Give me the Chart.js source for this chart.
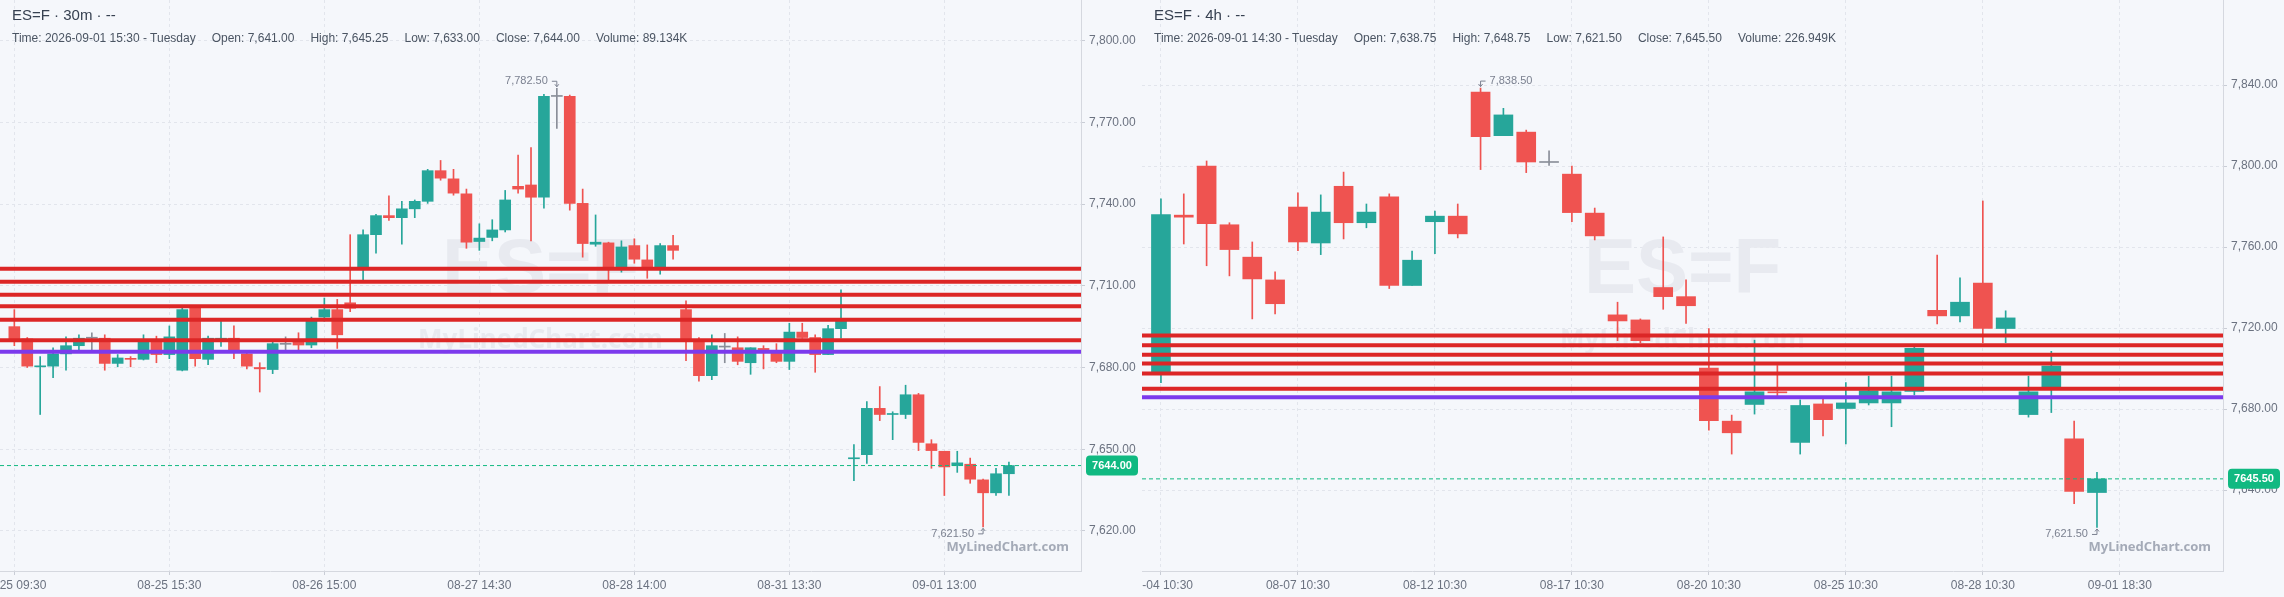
<!DOCTYPE html>
<html lang="en">
<head>
<meta charset="utf-8">
<title>ES=F</title>
<script src="https://cdn.jsdelivr.net/npm/chart.js@4.4.1/dist/chart.umd.min.js"></script>
<style>
  html, body { margin: 0; padding: 0; background: #f5f7fb; }
  #wrap { position: relative; width: 2284px; height: 597px; overflow: hidden; }
  .panel { position: absolute; top: 0; width: 1142px; height: 597px; }
  .panel canvas { position: absolute; left: 0; top: 0; }
  .title { position: absolute; left: 12px; top: 6px; font: 15px "Liberation Sans", Arial, sans-serif; color: #374151; white-space: nowrap; }
  .info { position: absolute; left: 12px; top: 31px; font: 12px "Liberation Sans", Arial, sans-serif; color: #4b5563; white-space: nowrap; }
  .info span { margin-right: 16px; }
</style>
</head>
<body>
<div id="wrap">
  <div class="panel" style="left:0">
    <canvas id="chart30m" width="1142" height="597"></canvas>
    <div class="title" id="title30m"></div>
    <div class="info" id="info30m"></div>
  </div>
  <div class="panel" style="left:1142px">
    <canvas id="chart4h" width="1142" height="597"></canvas>
    <div class="title" id="title4h"></div>
    <div class="info" id="info4h"></div>
  </div>
</div>
<script>
// ES=F 双周期 K线图 (30m / 4h)

// ---- 30m 数据 ----
const open30m = [7695.0, 7690.5, 7680.25, 7680.5, 7685.0, 7688.0, 7690.75, 7690.75, 7681.5, 7683.25,
  7683.0, 7689.25, 7684.75, 7679.0, 7701.75, 7683.0, 7690.25, 7690.75, 7685.0, 7680.0,
  7679.25, 7688.5, 7689.5, 7688.25, 7698.5, 7701.25, 7703.75, 7717.0, 7728.75, 7735.75,
  7735.0, 7738.25, 7741.0, 7752.25, 7749.25, 7743.75, 7726.25, 7727.75, 7730.5, 7746.5,
  7747.0, 7742.5, 7779.5, 7779.5, 7740.25, 7725.25, 7725.75, 7717.0, 7724.75, 7719.5,
  7717.0, 7724.75, 7701.25, 7689.5, 7677.0, 7687.5, 7687.25, 7681.75, 7687.0, 7686.25,
  7682.25, 7693.0, 7691.0, 7684.75, 7694.25, 7646.5, 7648.0, 7665.0, 7662.75, 7662.75,
  7670.0, 7652.0, 7649.25, 7644.0, 7644.5, 7638.75, 7634.0, 7641.0];
const high30m = [7701.25, 7691.0, 7684.0, 7687.25, 7691.25, 7692.0, 7692.75, 7692.0, 7684.75, 7684.0,
  7692.0, 7691.5, 7695.25, 7701.75, 7702.5, 7691.5, 7697.0, 7695.25, 7685.25, 7681.75,
  7689.25, 7691.25, 7692.75, 7698.5, 7705.5, 7705.0, 7728.75, 7730.5, 7736.25, 7743.0,
  7741.0, 7741.5, 7752.75, 7756.0, 7752.75, 7745.5, 7732.75, 7734.25, 7745.0, 7758.0,
  7760.75, 7780.25, 7782.5, 7780.0, 7745.5, 7736.0, 7726.0, 7726.5, 7727.25, 7725.0,
  7725.5, 7728.5, 7704.5, 7691.0, 7692.0, 7692.5, 7691.25, 7687.25, 7688.0, 7688.75,
  7696.25, 7696.25, 7692.0, 7695.5, 7708.5, 7651.75, 7667.5, 7673.0, 7663.75, 7673.5,
  7670.5, 7653.5, 7649.25, 7649.25, 7646.75, 7639.0, 7643.0, 7645.25];
const low30m = [7688.0, 7680.0, 7662.75, 7676.25, 7679.0, 7686.5, 7686.5, 7679.0, 7680.25, 7680.25,
  7682.75, 7681.75, 7683.25, 7678.75, 7680.5, 7681.0, 7687.75, 7683.25, 7679.5, 7671.0,
  7677.75, 7686.5, 7686.5, 7687.25, 7697.0, 7687.0, 7700.5, 7712.25, 7722.0, 7734.0,
  7725.25, 7735.0, 7740.25, 7748.75, 7743.25, 7723.75, 7723.0, 7726.5, 7729.75, 7744.0,
  7726.5, 7738.5, 7767.75, 7737.75, 7720.5, 7724.5, 7712.25, 7715.0, 7718.25, 7712.75,
  7714.25, 7719.75, 7682.5, 7675.0, 7675.5, 7681.75, 7681.0, 7677.5, 7679.5, 7681.75,
  7679.25, 7690.75, 7678.25, 7684.75, 7690.75, 7638.5, 7644.75, 7660.5, 7653.5, 7661.25,
  7649.5, 7643.0, 7633.0, 7641.5, 7637.5, 7621.5, 7633.0, 7633.0];
const close30m = [7689.5, 7680.5, 7680.5, 7685.0, 7688.0, 7690.75, 7690.75, 7681.5, 7683.5, 7683.0,
  7689.25, 7684.75, 7691.25, 7701.25, 7683.25, 7690.75, 7690.75, 7686.5, 7680.5, 7679.5,
  7688.75, 7688.5, 7688.25, 7697.0, 7701.25, 7692.0, 7701.75, 7728.75, 7735.75, 7735.0,
  7738.25, 7741.0, 7752.25, 7749.5, 7744.0, 7726.0, 7727.5, 7730.5, 7741.5, 7745.5,
  7742.5, 7779.5, 7779.5, 7740.25, 7725.5, 7726.0, 7717.0, 7724.25, 7719.75, 7717.0,
  7724.75, 7723.0, 7690.25, 7677.0, 7688.0, 7687.5, 7682.25, 7687.25, 7686.5, 7682.25,
  7693.0, 7691.0, 7684.75, 7694.25, 7697.0, 7646.75, 7665.0, 7662.75, 7663.0, 7670.0,
  7652.5, 7649.5, 7643.5, 7645.0, 7639.0, 7634.0, 7641.0, 7644.0];
const tickIdx30m = [0, 12, 24, 36, 48, 60, 72];
const tickLabels30m = ['08-25 09:30', '08-25 15:30', '08-26 15:00', '08-27 14:30', '08-28 14:00', '08-31 13:30', '09-01 13:00'];
const yTicks30m = [7620, 7650, 7680, 7710, 7740, 7770, 7800];

// ---- 4h 数据 ----
const open4h = [7698.5, 7775.75, 7800.0, 7771.0, 7755.0, 7743.75, 7779.75, 7762.0, 7790.0, 7772.0,
  7784.75, 7741.0, 7772.5, 7775.25, 7836.5, 7815.0, 7816.75, 7801.75, 7796.0, 7776.75,
  7726.5, 7724.0, 7740.0, 7735.5, 7700.25, 7674.0, 7682.25, 7688.5, 7663.5, 7682.5,
  7680.25, 7683.0, 7683.0, 7688.75, 7728.75, 7726.0, 7742.25, 7719.75, 7677.25, 7690.75,
  7665.25, 7638.75];
const high4h = [7783.75, 7786.25, 7802.5, 7772.0, 7762.5, 7747.75, 7786.75, 7785.75, 7797.0, 7781.25,
  7786.25, 7758.0, 7777.75, 7781.25, 7838.5, 7828.5, 7817.75, 7807.5, 7800.0, 7779.25,
  7732.75, 7724.5, 7765.0, 7743.75, 7719.75, 7677.0, 7714.0, 7701.5, 7684.5, 7685.25,
  7693.0, 7696.25, 7696.25, 7711.0, 7756.0, 7744.75, 7782.75, 7728.5, 7696.25, 7708.5,
  7674.0, 7648.75];
const low4h = [7693.0, 7761.5, 7750.75, 7745.75, 7724.5, 7727.0, 7758.25, 7756.25, 7764.0, 7769.5,
  7739.5, 7741.0, 7756.75, 7764.5, 7798.25, 7815.0, 7796.75, 7800.25, 7772.5, 7763.5,
  7713.75, 7712.75, 7729.25, 7722.25, 7669.5, 7657.75, 7677.5, 7686.0, 7657.75, 7666.75,
  7662.75, 7682.0, 7671.25, 7687.0, 7722.0, 7723.0, 7712.75, 7712.75, 7676.0, 7678.25,
  7633.25, 7621.5];
const close4h = [7776.0, 7774.75, 7771.5, 7758.75, 7744.25, 7732.0, 7762.5, 7777.25, 7772.0, 7777.25,
  7741.0, 7753.5, 7775.25, 7766.5, 7814.5, 7825.25, 7802.0, 7801.75, 7777.0, 7765.5,
  7723.5, 7713.75, 7735.5, 7731.0, 7674.25, 7668.25, 7688.5, 7688.0, 7681.75, 7674.75,
  7683.0, 7689.0, 7688.5, 7710.0, 7726.0, 7732.75, 7719.75, 7725.0, 7688.5, 7701.25,
  7639.25, 7645.5];
const tickIdx4h = [0, 6, 12, 18, 24, 30, 36, 42];
const tickLabels4h = ['08-04 10:30', '08-07 10:30', '08-12 10:30', '08-17 10:30', '08-20 10:30', '08-25 10:30', '08-28 10:30', '09-01 18:30'];
const yTicks4h = [7640, 7680, 7720, 7760, 7800, 7840];

// ---- 水平线 (阻力/支撑) ----
const levels = [7716.25, 7711.5, 7706.75, 7702.5, 7697.5, 7690.0];
const pivotLevel = 7685.75;

// ---- 表头 ----
const title30m = 'ES=F · 30m · --';
const info30m = ['Time: 2026-09-01 15:30 - Tuesday', 'Open: 7,641.00', 'High: 7,645.25', 'Low: 7,633.00', 'Close: 7,644.00', 'Volume: 89.134K'];
const title4h = 'ES=F · 4h · --';
const info4h = ['Time: 2026-09-01 14:30 - Tuesday', 'Open: 7,638.75', 'High: 7,648.75', 'Low: 7,621.50', 'Close: 7,645.50', 'Volume: 226.949K'];

const FONT = '"Liberation Sans", Arial, Helvetica, sans-serif';
const UP = '#26a69a';
const DOWN = '#ef5350';
const FLAT = '#8a8f99';
const LEVEL_RED = '#dc2626';
const PIVOT = '#7c3aed';
const PRICE = '#10b981';
const GRID = '#e2e5ec';
const AXIS_TEXT = '#6b7280';

const fmt = v => v.toLocaleString('en-US', { minimumFractionDigits: 2, maximumFractionDigits: 2 });

// 最高/最低价标注
function extremeLabel(ctx, area, x, y, text, isHigh) {
    const onLeft = x > (area.left + area.right) / 2;
    const ly = isHigh ? y - 7 : y + 7;
    const tip = isHigh ? y - 1.5 : y + 1.5;
    ctx.strokeStyle = '#7b8190';
    ctx.fillStyle = '#7b8190';
    ctx.lineWidth = 1;
    ctx.beginPath();
    ctx.moveTo(onLeft ? x - 5 : x + 5, ly);
    ctx.lineTo(x, ly);
    ctx.lineTo(x, tip);
    ctx.stroke();
    const d = isHigh ? -2.5 : 2.5;
    ctx.beginPath();
    ctx.moveTo(x - 2, tip + d);
    ctx.lineTo(x, tip);
    ctx.lineTo(x + 2, tip + d);
    ctx.stroke();
    ctx.font = '11px ' + FONT;
    ctx.textBaseline = 'middle';
    ctx.textAlign = onLeft ? 'right' : 'left';
    ctx.fillText(text, onLeft ? x - 9 : x + 9, ly);
}

const overlayPlugin = {
    id: 'overlay',
    beforeDatasetsDraw(chart, args, opts) {
        const { ctx, chartArea: a } = chart;
        const cx = (a.left + a.right) / 2;
        ctx.save();
        ctx.fillStyle = '#e8eaf0';
        ctx.textAlign = 'center';
        ctx.textBaseline = 'middle';
        ctx.font = 'bold 78px ' + FONT;
        ctx.fillText(opts.symbol, cx, a.top + 271);
        ctx.font = 'bold 26px "Noto Sans", sans-serif';
        ctx.fillText('MyLinedChart.com', cx, a.top + 341);
        ctx.restore();
    },
    afterDraw(chart, args, opts) {
        const { ctx, chartArea: a, scales } = chart;
        ctx.save();

        // 最高 / 最低
        let hi = 0, lo = 0;
        opts.high.forEach((v, i) => { if (v > opts.high[hi]) hi = i; });
        opts.low.forEach((v, i) => { if (v < opts.low[lo]) lo = i; });
        extremeLabel(ctx, a, scales.x.getPixelForValue(hi), scales.y.getPixelForValue(opts.high[hi]), fmt(opts.high[hi]), true);
        extremeLabel(ctx, a, scales.x.getPixelForValue(lo), scales.y.getPixelForValue(opts.low[lo]), fmt(opts.low[lo]), false);

        // 右下角水印
        ctx.font = 'bold 13px "Noto Sans", sans-serif';
        ctx.fillStyle = '#a4aab7';
        ctx.textAlign = 'right';
        ctx.textBaseline = 'middle';
        ctx.fillText('MyLinedChart.com', a.right - 12, a.bottom - 24);

        // 最新价标签
        const y = scales.y.getPixelForValue(opts.last);
        const x0 = a.right + 5;
        ctx.fillStyle = PRICE;
        ctx.beginPath();
        ctx.roundRect(x0, y - 10, 52, 20, 4);
        ctx.fill();
        ctx.fillStyle = '#ffffff';
        ctx.font = 'bold 11px ' + FONT;
        ctx.textAlign = 'center';
        ctx.fillText(opts.last.toFixed(2), x0 + 26, y + 0.5);
        ctx.restore();
    }
};

function hLine(v, xMin, xMax, color, width, dash) {
    return {
        type: 'line',
        data: [{ x: xMin, y: v }, { x: xMax, y: v }],
        borderColor: color,
        borderWidth: width,
        borderDash: dash || [],
        pointRadius: 0,
        order: 0
    };
}

function buildChart(id, d) {
    const colors = d.open.map((o, i) => d.close[i] > o ? UP : (d.close[i] < o ? DOWN : FLAT));
    const bodies = d.open.map((o, i) => ({ x: i, y: [o, d.close[i]] }));
    const wicks = d.open.map((o, i) => ({ x: i, y: [d.low[i], d.high[i]] }));
    const last = d.close[d.close.length - 1];

    const datasets = [
        ...levels.map(v => hLine(v, d.xMin, d.xMax, LEVEL_RED, 4)),
        hLine(pivotLevel, d.xMin, d.xMax, PIVOT, 4),
        hLine(last, d.xMin, d.xMax, PRICE, 1, [4, 3]),
        {
            type: 'bar', data: bodies, backgroundColor: colors, borderWidth: 0,
            grouped: false, barThickness: d.bodyWidth, maxBarThickness: d.bodyWidth, minBarLength: 1, order: 1
        },
        {
            type: 'bar', data: wicks, backgroundColor: colors, borderWidth: 0,
            grouped: false, barThickness: 1, maxBarThickness: 1, minBarLength: 1, order: 2
        }
    ];

    return new Chart(document.getElementById(id), {
        type: 'bar',
        data: { datasets },
        plugins: [overlayPlugin],
        options: {
            responsive: false,
            animation: false,
            devicePixelRatio: 1,
            layout: { padding: 0 },
            plugins: {
                legend: { display: false },
                tooltip: { enabled: false },
                overlay: { symbol: 'ES=F', high: d.high, low: d.low, last }
            },
            scales: {
                x: {
                    type: 'linear', min: d.xMin, max: d.xMax, offset: false,
                    afterBuildTicks: s => { s.ticks = d.tickIdx.map(v => ({ value: v })); },
                    afterFit: s => { s.height = 26; s.paddingLeft = 0; s.paddingRight = 0; },
                    ticks: {
                        autoSkip: false, maxRotation: 0, padding: 3, color: AXIS_TEXT,
                        font: { size: 12, family: FONT },
                        callback: (v, i) => d.tickLabels[i]
                    },
                    grid: { offset: false, color: GRID, tickLength: 4, tickColor: '#c9cdd6' },
                    border: { color: '#d5d8df', dash: [3, 3] }
                },
                y: {
                    type: 'linear', position: 'right', min: d.yMin, max: d.yMax, beginAtZero: false,
                    afterBuildTicks: s => { s.ticks = d.yTicks.map(v => ({ value: v })); },
                    afterFit: s => { s.width = 61; s.paddingTop = 0; s.paddingBottom = 0; },
                    ticks: {
                        padding: 4, color: AXIS_TEXT,
                        font: { size: 12, family: FONT },
                        callback: v => fmt(v)
                    },
                    grid: { color: GRID, tickLength: 4, tickColor: '#c9cdd6' },
                    border: { color: '#d5d8df', dash: [3, 3] }
                }
            }
        }
    });
}

function fillHeader(titleId, infoId, title, items) {
    document.getElementById(titleId).textContent = title;
    document.getElementById(infoId).innerHTML = items.map(t => `<span>${t}</span>`).join('');
}

fillHeader('title30m', 'info30m', title30m, info30m);
fillHeader('title4h', 'info4h', title4h, info4h);

buildChart('chart30m', {
    open: open30m, high: high30m, low: low30m, close: close30m,
    tickIdx: tickIdx30m, tickLabels: tickLabels30m, yTicks: yTicks30m,
    xMin: -1.11, xMax: 82.58, yMin: 7605.3, yMax: 7814.9, bodyWidth: 11
});

buildChart('chart4h', {
    open: open4h, high: high4h, low: low4h, close: close4h,
    tickIdx: tickIdx4h, tickLabels: tickLabels4h, yTicks: yTicks4h,
    xMin: -0.83, xMax: 46.52, yMin: 7600, yMax: 7882, bodyWidth: 19
});
</script>
</body>
</html>
